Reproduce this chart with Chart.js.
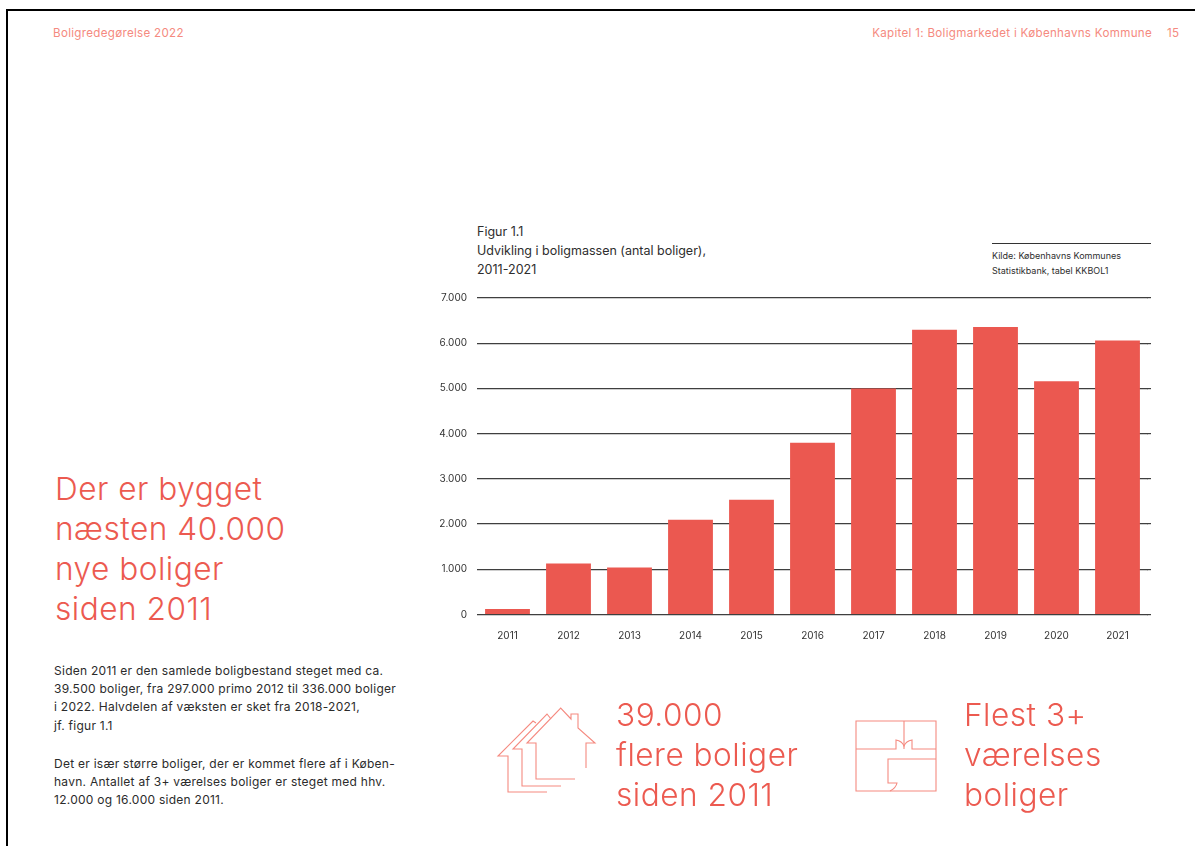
<!DOCTYPE html>
<html lang="da">
<head>
<meta charset="utf-8">
<title>Boligredegørelse 2022</title>
<script src="https://cdn.jsdelivr.net/npm/chart.js@4"></script>
<style>
  html, body { margin: 0; padding: 0; background: #fff; }
  body { width: 1195px; height: 846px; position: relative; overflow: hidden; font-family: Inter, sans-serif; }
  .frame-top { position: absolute; left: 6px; top: 9px; width: 1189px; height: 2px; background: #000; }
  .frame-left { position: absolute; left: 6px; top: 9px; width: 2px; height: 837px; background: #000; }
  .t { position: absolute; white-space: nowrap; }
  .run { color: #f58a80; font-size: 11.6px; letter-spacing: .3px; }
  .head { color: #ec5a50; font-size: 31.6px; font-weight: 300; line-height: 40px; letter-spacing: .5px; }
  .big { color: #ec5a50; font-size: 31.6px; font-weight: 300; line-height: 40px; letter-spacing: .5px; }
  .fig { color: #2e2e2e; font-size: 12.5px; line-height: 19px; }
  .src { color: #2e2e2e; font-size: 9px; line-height: 15px; }
  .body { color: #2b2b2b; font-size: 12px; line-height: 18.2px; letter-spacing: .26px; }
  #chartBox { position: absolute; left: 427px; top: 282px; width: 734px; height: 370px; }
  svg.icon { position: absolute; left: 0; top: 0; }
  svg.icon path { fill: none; stroke: #f58a80; stroke-width: 1.1; }
</style>
</head>
<body>
<div class="frame-top"></div>
<div class="frame-left"></div>

<div class="t run" style="left:53px;top:26px">Boligredegørelse 2022</div>
<div class="t run" style="right:43px;top:26px">Kapitel 1: Boligmarkedet i Københavns Kommune</div>
<div class="t run" style="left:1167px;top:26px">15</div>

<div class="t head" style="left:55px;top:469px">Der er bygget<br>næsten 40.000<br>nye boliger<br>siden 2011</div>

<div class="t body" style="left:54px;top:662px">Siden 2011 er den samlede boligbestand steget med ca.<br>39.500 boliger, fra 297.000 primo 2012 til 336.000 boliger<br>i 2022. Halvdelen af væksten er sket fra 2018-2021,<br>jf. figur 1.1</div>
<div class="t body" style="left:54px;top:755px">Det er især større boliger, der er kommet flere af i Køben-<br>havn. Antallet af 3+ værelses boliger er steget med hhv.<br>12.000 og 16.000 siden 2011.</div>

<div class="t fig" style="left:477px;top:222px">Figur 1.1<br>Udvikling i boligmassen (antal boliger),<br>2011-2021</div>
<div style="position:absolute;left:992px;top:243px;width:159px;height:1px;background:#333"></div>
<div class="t src" style="left:992px;top:248px">Kilde: Københavns Kommunes<br>Statistikbank, tabel KKBOL1</div>

<div id="chartBox"><canvas id="chart"></canvas></div>

<svg class="icon" width="1195" height="846">
  <!-- three overlapping house outlines, front to back -->
  <path d="M575 779H536V743H527L560.7 708L571 719V714H578V728L595 743H586V768"/>
  <path d="M561 786H522V749H513L547 714L551 719"/>
  <path d="M547 792H508V756H498L533 721L536 723"/>
  <!-- floor plan with rooms and door swings -->
  <path d="M856 721H936V791H856Z"/>
  <path d="M904 721V749"/>
  <path d="M856 749H896V740Q902 741 904 746Q906 741 912 740V749H936"/>
  <path d="M936 759H888V783H897Q896 788 890 791" />
</svg>

<div class="t big" style="left:616px;top:695px">39.000<br>flere boliger<br>siden 2011</div>
<div class="t big" style="left:964px;top:695px">Flest 3+<br>værelses<br>boliger</div>

<script>
const years = ['2011','2012','2013','2014','2015','2016','2017','2018','2019','2020','2021'];
const dwellings = [120, 1130, 1040, 2095, 2540, 3800, 5000, 6300, 6360, 5160, 6060];
const yTicks = [0, 1000, 2000, 3000, 4000, 5000, 6000, 7000];

const ruleColor = '#3f3f3f';
const ruleWidth = 1.2;
const formatThousands = v => String(v).replace(/\B(?=(\d{3})+$)/g, '.');

// Carries the horizontal rules a few pixels past the last category band.
const ruleOverhang = {
  id: 'ruleOverhang',
  beforeDatasetsDraw(chart) {
    const { ctx, chartArea, scales } = chart;
    ctx.save();
    ctx.strokeStyle = ruleColor;
    ctx.lineWidth = ruleWidth;
    scales.y.ticks.forEach(t => {
      const y = Chart.helpers._alignPixel(chart, scales.y.getPixelForValue(t.value), ruleWidth);
      ctx.beginPath();
      ctx.moveTo(chartArea.right - 1, y);
      ctx.lineTo(chartArea.right + 3, y);
      ctx.stroke();
    });
    ctx.restore();
  }
};

new Chart(document.getElementById('chart'), {
  type: 'bar',
  data: {
    labels: years,
    datasets: [{
      data: dwellings,
      backgroundColor: '#eb5850',
      borderWidth: 0,
      categoryPercentage: 1,
      barPercentage: 0.735
    }]
  },
  plugins: [ruleOverhang],
  options: {
    responsive: true,
    maintainAspectRatio: false,
    animation: false,
    layout: { padding: { top: 5, right: 13, left: 0, bottom: 0 } },
    plugins: { legend: { display: false }, tooltip: { enabled: false } },
    scales: {
      x: {
        grid: { display: false },
        border: { display: false },
        afterFit: s => { s.height = 37.5; },
        ticks: {
          color: '#333',
          padding: 7,
          maxRotation: 0,
          font: { family: 'Inter', size: 10 }
        }
      },
      y: {
        min: 0,
        max: 7000,
        afterFit: s => { s.width = 50; },
        afterBuildTicks: s => { s.ticks = yTicks.map(value => ({ value })); },
        grid: { color: ruleColor, lineWidth: ruleWidth, drawTicks: false },
        border: { display: false },
        ticks: {
          color: '#333',
          padding: 10,
          font: { family: 'Inter', size: 10 },
          callback: v => formatThousands(v)
        }
      }
    }
  }
});
</script>
</body>
</html>
